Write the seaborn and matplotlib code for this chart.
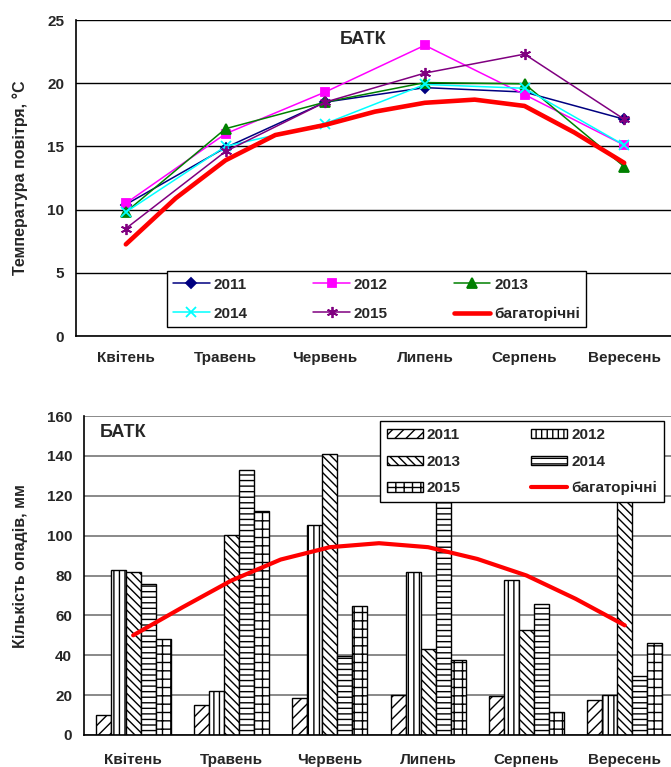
import matplotlib

matplotlib.use("Agg")
import matplotlib.pyplot as plt
from matplotlib.lines import Line2D
from matplotlib.patches import Patch
import numpy as np
import pandas as pd
import seaborn as sns

sns.set_theme(style="white")
plt.rcParams["font.family"] = ["Liberation Sans", "DejaVu Sans"]
plt.rcParams["font.weight"] = "bold"
plt.rcParams["axes.labelweight"] = "bold"
plt.rcParams["hatch.linewidth"] = 1.0
plt.rcParams["hatch.color"] = "black"

months = ["Квітень", "Травень", "Червень", "Липень", "Серпень", "Вересень"]
years = ["2011", "2012", "2013", "2014", "2015"]

# air temperature, °C
t2011 = [10.4, 14.9, 18.5, 19.65, 19.3, 17.15]
t2012 = [10.5, 16.0, 19.3, 23.0, 19.1, 15.1]
t2013 = [9.8, 16.4, 18.5, 20.05, 19.95, 13.4]
t2014 = [9.8, 15.0, 16.8, 19.9, 19.6, 15.1]
t2015 = [8.5, 14.6, 18.5, 20.8, 22.3, 17.15]
t_norm = [7.25, 10.9, 13.9, 15.9, 16.7, 17.75, 18.45, 18.7, 18.2, 16.1, 13.7]  # half-month steps

# precipitation, mm
p2011 = [10, 15, 18.5, 20, 19.5, 17.5]
p2012 = [83, 22, 105.5, 82, 77.5, 20]
p2013 = [82, 100.5, 141, 43, 52.5, 125]
p2014 = [75.5, 133, 39.5, 130, 65.5, 29.5]
p2015 = [48, 112.5, 64.5, 37.5, 11.5, 46]
p_norm = [50, 64, 77.5, 88, 94.2, 96.2, 94.2, 88.3, 80, 68.3, 55]  # half-month steps

line_colors = ["#000080", "#FF00FF", "#008000", "#00FFFF", "#800080"]
line_markers = ["D", "s", "^", "x", (6, 2, 0)]
marker_sizes = [5, 6, 6.5, 7, 8]
bar_hatches = ["///", "|||", r"\\\\", "---", "++"]

FS = 11
W, H = 671, 767
fig = plt.figure(figsize=(W / 100, H / 100), dpi=100)


def px_axes(left, top, right, bottom):
    return fig.add_axes([left / W, 1 - bottom / H, (right - left) / W, (bottom - top) / H])


def cat_ticks(ax, n, pad):
    ax.set_xlim(-0.5, n - 0.5)
    ax.set_xticks(range(n))
    ax.set_xticklabels(months, fontsize=FS, fontweight="bold")
    ax.set_xticks(np.arange(0.5, n, 1.0), minor=True)
    ax.tick_params(axis="x", which="major", length=0, pad=pad)
    ax.tick_params(axis="x", which="minor", length=4, width=1, color="black", direction="out")
    ax.tick_params(axis="y", length=4.5, width=1, color="black", direction="out", pad=4,
                   labelsize=FS)
    for lab in ax.get_yticklabels():
        lab.set_fontweight("bold")
    for s in ("top", "right"):
        ax.spines[s].set_visible(False)
    for s in ("left", "bottom"):
        ax.spines[s].set_color("black")
        ax.spines[s].set_linewidth(1.2)


# ---------------- temperature ----------------
ax1 = px_axes(76, 20, 674, 336)
temps = [t2011, t2012, t2013, t2014, t2015]
pos = np.arange(len(months))
handles_t = {}
for yr, vals, c, m, ms in zip(years, temps, line_colors, line_markers, marker_sizes):
    sns.lineplot(x=pos, y=vals, ax=ax1, color=c, lw=1.1, marker=m, markersize=ms,
                 markeredgecolor=c, markerfacecolor=c, markeredgewidth=1.3)
    handles_t[yr] = ax1.lines[-1]
sns.lineplot(x=np.arange(len(t_norm)) * 0.5, y=t_norm, ax=ax1, color="#FF0000", lw=3.3)
handles_t["багаторічні"] = ax1.lines[-1]

ax1.set_ylim(0, 25)
ax1.set_yticks(range(0, 26, 5))
ax1.grid(axis="y", color="black", lw=1.0)
ax1.set_axisbelow(True)
cat_ticks(ax1, len(months), 11)
ax1.set_ylabel("Температура повітря, °С", fontsize=11.5, fontweight="bold")
ax1.yaxis.set_label_coords(-0.080, 0.5)
ax1.set_xlabel("")
ax1.text(0.48, 0.937, "БАТК", transform=ax1.transAxes, ha="center", va="center",
         fontsize=13, fontweight="bold")

order_t = ["2011", "2014", "2012", "2015", "2013", "багаторічні"]
leg1 = ax1.legend([handles_t[k] for k in order_t], order_t, loc="lower left",
                  bbox_to_anchor=(0.152, 0.0285), ncol=3,
                  prop={"weight": "bold", "size": FS}, frameon=True, fancybox=False,
                  edgecolor="black", framealpha=1, handlelength=2.4, handletextpad=0.26,
                  columnspacing=4.3, labelspacing=1.0, borderpad=0.4, borderaxespad=0)
leg1.get_frame().set_linewidth(1.0)

# ---------------- precipitation ----------------
ax2 = px_axes(84, 416, 674, 735)
precs = [p2011, p2012, p2013, p2014, p2015]
df = pd.DataFrame({
    "pos": np.tile(pos, len(years)),
    "year": np.repeat(years, len(months)),
    "mm": np.concatenate(precs),
})
sns.barplot(data=df, x="pos", y="mm", hue="year", hue_order=years, ax=ax2,
            palette=dict(zip(years, ["white"] * len(years))), saturation=1,
            edgecolor="black", linewidth=1.0, width=0.76, errorbar=None, legend=False)
for cont, h in zip(ax2.containers, bar_hatches):
    for bar in cont:
        bar.set_hatch(h)
sns.lineplot(x=np.arange(len(p_norm)) * 0.5, y=p_norm, ax=ax2, color="#FF0000", lw=3.0)

ax2.set_ylim(0, 160)
ax2.set_yticks(range(0, 161, 20))
ax2.grid(axis="y", color="#6a6a6a", lw=1.1)
ax2.set_axisbelow(True)
cat_ticks(ax2, len(months), 13)
ax2.set_ylabel("Кількість опадів, мм", fontsize=11.5, fontweight="bold")
ax2.yaxis.set_label_coords(-0.095, 0.53)
ax2.set_xlabel("")
ax2.text(0.027, 0.947, "БАТК", transform=ax2.transAxes, ha="left", va="center",
         fontsize=13, fontweight="bold")

bar_handles = {yr: Patch(facecolor="white", edgecolor="black", hatch=h, lw=1.0)
               for yr, h in zip(years, bar_hatches)}
bar_handles["багаторічні"] = Line2D([], [], color="#FF0000", lw=3.0)
order_p = ["2011", "2013", "2015", "2012", "2014", "багаторічні"]
leg2 = ax2.legend([bar_handles[k] for k in order_p], order_p, loc="upper left",
                  bbox_to_anchor=(0.502, 0.984), ncol=2,
                  prop={"weight": "bold", "size": FS}, frameon=True, fancybox=False,
                  edgecolor="black", framealpha=1, handlelength=2.35, handleheight=0.55,
                  handletextpad=0.26, columnspacing=4.6, labelspacing=0.83, borderpad=0.45,
                  borderaxespad=0)
leg2.get_frame().set_linewidth(1.0)

fig.savefig("out.png", dpi=100)
